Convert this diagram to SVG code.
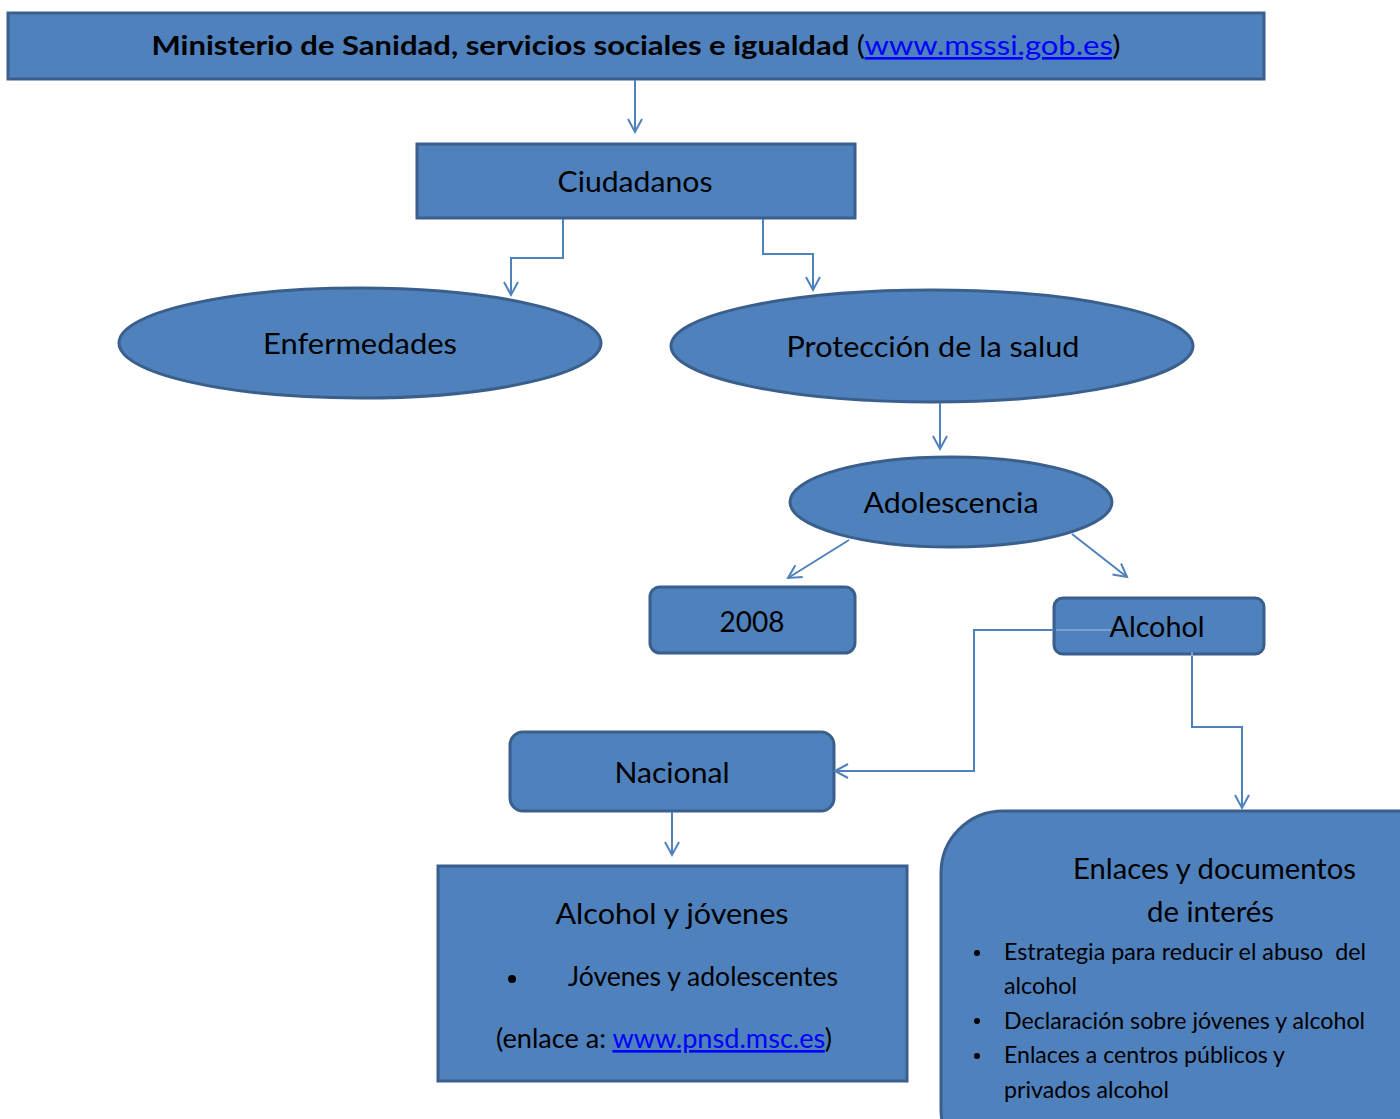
<svg xmlns="http://www.w3.org/2000/svg" width="1400" height="1119" viewBox="0 0 1400 1119">
<style>
.n{fill:#4F81BD;stroke:#3A5F8C;stroke-width:3}
.t{font-family:Lato,"Open Sans","Liberation Sans",sans-serif;fill:#000;text-anchor:middle}
.l{font-family:Lato,"Open Sans","Liberation Sans",sans-serif;fill:#000}
.c{fill:none;stroke:#4F81BD;stroke-width:2}
.ci{fill:none;stroke:#78A0D2;stroke-width:2}
.lk{fill:#0000FF;text-decoration:underline}
</style>
<defs>
<marker id="a" markerUnits="userSpaceOnUse" markerWidth="20" markerHeight="20" refX="14" refY="8" orient="auto">
<path d="M1,1 L14,8 L1,15" fill="none" stroke="#4F81BD" stroke-width="2"/>
</marker>
</defs>
<rect width="1400" height="1119" fill="#fff"/>
<g id="ministerio">
<rect class="n" x="8" y="13" width="1256" height="66"/>
<text class="t" x="636" y="55" font-size="26" font-weight="bold" textLength="969" lengthAdjust="spacingAndGlyphs">Ministerio de Sanidad, servicios sociales e igualdad <tspan font-weight="normal">(</tspan><tspan class="lk" font-weight="normal">www.msssi.gob.es</tspan><tspan font-weight="normal">)</tspan></text>
</g>
<g id="ciudadanos">
<rect class="n" x="417" y="144" width="438" height="74"/>
<text class="t" x="635" y="192" font-size="28" textLength="155" lengthAdjust="spacingAndGlyphs">Ciudadanos</text>
</g>
<g id="enfermedades">
<ellipse class="n" cx="360" cy="343" rx="241" ry="55"/>
<text class="t" x="360" y="354" font-size="29" textLength="194" lengthAdjust="spacingAndGlyphs">Enfermedades</text>
</g>
<g id="proteccion">
<ellipse class="n" cx="932" cy="346" rx="261" ry="56"/>
<text class="t" x="933" y="357" font-size="29" textLength="293" lengthAdjust="spacingAndGlyphs">Protección de la salud</text>
</g>
<g id="adolescencia">
<ellipse class="n" cx="951" cy="502" rx="161" ry="45"/>
<text class="t" x="951" y="513" font-size="29" textLength="175" lengthAdjust="spacingAndGlyphs">Adolescencia</text>
</g>
<g id="n2008">
<rect class="n" x="650" y="587" width="205" height="66" rx="10"/>
<text class="t" x="752" y="632" font-size="29" textLength="65" lengthAdjust="spacingAndGlyphs">2008</text>
</g>
<g id="alcohol">
<rect class="n" x="1054" y="598" width="210" height="56" rx="9"/>
<text class="t" x="1157" y="637" font-size="29" textLength="95" lengthAdjust="spacingAndGlyphs">Alcohol</text>
</g>
<g id="nacional">
<rect class="n" x="510" y="732" width="324" height="79" rx="13"/>
<text class="t" x="672" y="783" font-size="29" textLength="115" lengthAdjust="spacingAndGlyphs">Nacional</text>
</g>
<g id="alcoholjovenes">
<rect class="n" x="438" y="866" width="469" height="215"/>
<text class="t" x="672" y="924" font-size="29" textLength="233" lengthAdjust="spacingAndGlyphs">Alcohol y jóvenes</text>
<circle cx="512" cy="979" r="4" fill="#000"/>
<text class="l" x="568" y="986" font-size="26" textLength="270" lengthAdjust="spacingAndGlyphs">Jóvenes y adolescentes</text>
<text class="l" x="496" y="1048" font-size="26" textLength="336" lengthAdjust="spacingAndGlyphs">(enlace a: <tspan class="lk">www.pnsd.msc.es</tspan>)</text>
</g>
<g id="enlaces">
<rect class="n" x="941" y="811" width="520" height="360" rx="62"/>
<text class="l" x="1073" y="879" font-size="29" textLength="283" lengthAdjust="spacingAndGlyphs">Enlaces y documentos</text>
<text class="l" x="1147" y="922" font-size="29" textLength="127" lengthAdjust="spacingAndGlyphs">de interés</text>
<circle cx="977" cy="953" r="3" fill="#000"/>
<text class="l" x="1004" y="960" font-size="23" textLength="362" lengthAdjust="spacingAndGlyphs" xml:space="preserve">Estrategia para reducir el abuso  del</text>
<text class="l" x="1004" y="994" font-size="23" textLength="73" lengthAdjust="spacingAndGlyphs">alcohol</text>
<circle cx="977" cy="1021" r="3" fill="#000"/>
<text class="l" x="1004" y="1029" font-size="23" textLength="361" lengthAdjust="spacingAndGlyphs">Declaración sobre jóvenes y alcohol</text>
<circle cx="977" cy="1056" r="3" fill="#000"/>
<text class="l" x="1004" y="1063" font-size="23" textLength="281" lengthAdjust="spacingAndGlyphs">Enlaces a centros públicos y</text>
<text class="l" x="1004" y="1098" font-size="23" textLength="165" lengthAdjust="spacingAndGlyphs">privados alcohol</text>
</g>
<g id="connectors">
<path class="c" d="M635,80 V132" marker-end="url(#a)"/>
<path class="c" d="M563,219 V258 H511 V295" marker-end="url(#a)"/>
<path class="c" d="M763,219 V254 H813 V290" marker-end="url(#a)"/>
<path class="c" d="M940,403 V449" marker-end="url(#a)"/>
<path class="c" d="M849,540 L788,578" marker-end="url(#a)"/>
<path class="c" d="M1072,534 L1127,577" marker-end="url(#a)"/>
<path class="ci" d="M1111,630 H1056"/>
<path class="ci" d="M1192,655 V652"/>
<path class="c" d="M1054,630 H974 V771 H835" marker-end="url(#a)"/>
<path class="c" d="M1192,656 V727 H1242 V808" marker-end="url(#a)"/>
<path class="c" d="M672,812 V855" marker-end="url(#a)"/>
</g>
</svg>
